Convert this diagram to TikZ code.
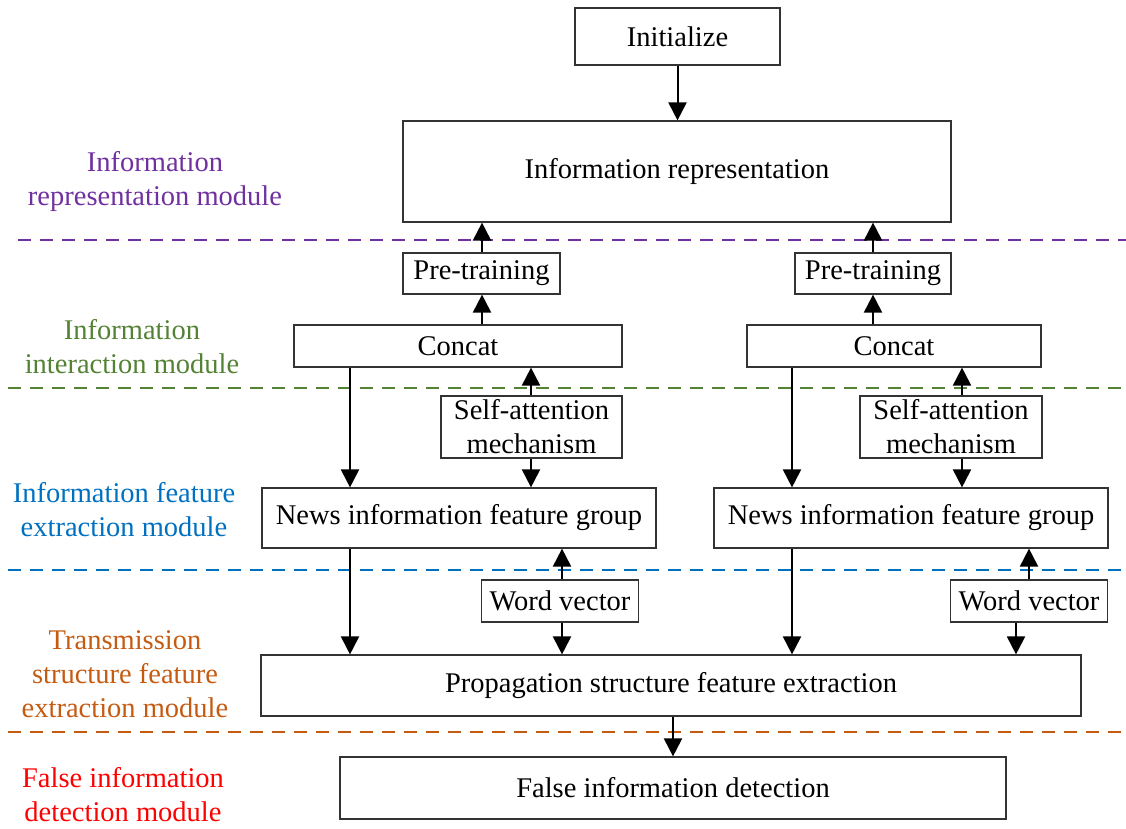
\documentclass[tikz,border=0pt]{standalone}
\usepackage{fontspec}
\setmainfont{Liberation Serif}
\usetikzlibrary{positioning,arrows.meta,calc}
\definecolor{repcol}{RGB}{112,48,160}
\definecolor{intcol}{RGB}{84,130,53}
\definecolor{featcol}{RGB}{0,112,192}
\definecolor{transcol}{RGB}{197,90,17}
\definecolor{detcol}{RGB}{255,0,0}
\newcommand{\bigtxt}{\fontsize{28.5}{34}\selectfont}

\begin{document}
\begin{tikzpicture}[x=1pt, y=-1pt,
  box/.style={draw=black!80, line width=1.2pt, align=center, font=\bigtxt,
              inner sep=0pt},
  modlbl/.style={align=center, font=\bigtxt},
  arr/.style={-{Triangle[length=18pt, width=18pt]}, line width=2pt},
  sepline/.style={line width=2pt, dash pattern=on 13pt off 9pt}]
\useasboundingbox (0,0) rectangle (1126,828);
% boxes
\node[box, minimum width=205pt, minimum height=57pt] (init) at (677.5,36.5) {Initialize};
\node[box, minimum width=548pt, minimum height=101pt] (rep) at (677,171.5)
  {Information representation};
\node[box, minimum width=157pt, minimum height=41pt] (pretrainL) at (481.5,273.5) {Pre-training};
\node[box, minimum width=156pt, minimum height=41pt] (pretrainR) at (873,273.5) {Pre-training};
\node[box, minimum width=328pt, minimum height=42pt] (concatL) at (458,346) {Concat};
\node[box, minimum width=294pt, minimum height=42pt] (concatR) at (894,346) {Concat};
\node[box, minimum width=181pt, minimum height=62pt] (attnL) at (531.5,427)
  {Self-attention\\mechanism};
\node[box, minimum width=182pt, minimum height=62pt] (attnR) at (951,427)
  {Self-attention\\mechanism};
\node[box, minimum width=394pt, minimum height=60pt] (newsL) at (459,518)
  {News information feature group};
\node[box, minimum width=394pt, minimum height=60pt] (newsR) at (911,518)
  {News information feature group};
\node[box, minimum width=157pt, minimum height=42pt] (wordL) at (560,601) {Word vector};
\node[box, minimum width=157pt, minimum height=42pt] (wordR) at (1029,601) {Word vector};
\node[box, minimum width=820pt, minimum height=61pt] (prop) at (671,685.5)
  {Propagation structure feature extraction};
\node[box, minimum width=666pt, minimum height=62pt] (detect) at (673,788)
  {False information detection};
% module labels
\node[modlbl, text=repcol] (repMod) at (155,181.5) {Information\\representation module};
\node[modlbl, text=intcol] (intMod) at (132,346.5) {Information\\interaction module};
\node[modlbl, text=featcol] (featMod) at (124,510) {Information feature\\extraction module};
\node[modlbl, text=transcol] (transMod) at (125,674.5)
  {Transmission\\structure feature\\extraction module};
\node[modlbl, text=detcol] (detMod) at (123,794.5) {False information\\detection module};
% separators
\draw[sepline, repcol] (18,240) -- (1126,240);
\draw[sepline, intcol] (8,388) -- (1126,388);
\draw[sepline, featcol] (8,570) -- (1126,570);
\draw[sepline, transcol] (8,732) -- (1126,732);
% columns of the connectors
\coordinate (pL) at (482,0);
\coordinate (pR) at (873,0);
\coordinate (cL) at (350,0);
\coordinate (cR) at (792,0);
\coordinate (aL) at (531,0);
\coordinate (aR) at (962,0);
\coordinate (wL) at (562,0);
\coordinate (wRup) at (1029,0);
\coordinate (wRdn) at (1016,0);
\coordinate (dC) at (673,0);
% connectors
\draw[arr] (init) -- (init |- rep.north);
\draw[arr] (pL |- pretrainL.north) -- (pL |- rep.south);
\draw[arr] (pR |- pretrainR.north) -- (pR |- rep.south);
\draw[arr] (pL |- concatL.north) -- (pL |- pretrainL.south);
\draw[arr] (pR |- concatR.north) -- (pR |- pretrainR.south);
\draw[arr] (aL |- attnL.north) -- (aL |- concatL.south);
\draw[arr] (aR |- attnR.north) -- (aR |- concatR.south);
\draw[arr] (cL |- concatL.south) -- (cL |- newsL.north);
\draw[arr] (cR |- concatR.south) -- (cR |- newsR.north);
\draw[arr] (aL |- attnL.south) -- (aL |- newsL.north);
\draw[arr] (aR |- attnR.south) -- (aR |- newsR.north);
\draw[arr] (wL |- wordL.north) -- (wL |- newsL.south);
\draw[arr] (wRup |- wordR.north) -- (wRup |- newsR.south);
\draw[arr] (cL |- newsL.south) -- (cL |- prop.north);
\draw[arr] (cR |- newsR.south) -- (cR |- prop.north);
\draw[arr] (wL |- wordL.south) -- (wL |- prop.north);
\draw[arr] (wRdn |- wordR.south) -- (wRdn |- prop.north);
\draw[arr] (dC |- prop.south) -- (dC |- detect.north);
\end{tikzpicture}
\end{document}
